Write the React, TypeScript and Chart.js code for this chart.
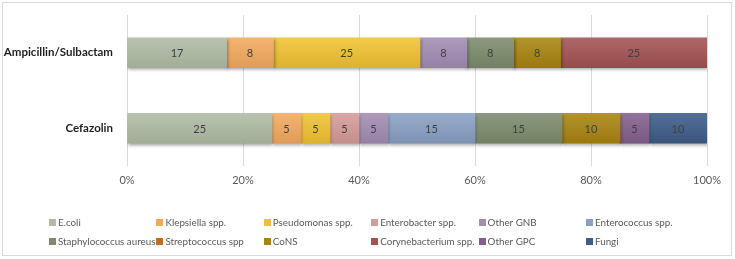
import { useEffect, useRef } from "react";
import { Chart, registerables } from "chart.js";

Chart.register(...registerables);

// Antibiotic regimens (category axis)
const regimens = ["Ampicillin/Sulbactam", "Cefazolin"];

// Organism groups, in legend / stacking order
const organisms = [
  "E.coli",
  "Klepsiella spp.",
  "Pseudomonas spp.",
  "Enterobacter spp.",
  "Other GNB",
  "Enterococcus spp.",
  "Staphylococcus aureus",
  "Streptococcus spp",
  "CoNS",
  "Corynebacterium spp.",
  "Other GPC",
  "Fungi",
];

const organismColors = [
  "#b0bca5",
  "#f3aa5f",
  "#f0c232",
  "#d49b98",
  "#a28cb2",
  "#89a0c4",
  "#7c8b6c",
  "#c06e28",
  "#a88410",
  "#a35252",
  "#83608c",
  "#3e5c87",
];

// Share of isolates (%) per organism for each regimen
const ampicillinSulbactam = [17, 8, 25, 0, 8, 0, 8, 0, 8, 25, 0, 0];
const cefazolin = [25, 5, 5, 5, 5, 15, 15, 0, 10, 0, 5, 10];

const xTickValues = [0, 20, 40, 60, 80, 100];

const FONT = "Lato, 'Noto Sans', sans-serif";

function shade(hex: string, amt: number): string {
  const n = parseInt(hex.slice(1), 16);
  let r = (n >> 16) & 255;
  let g = (n >> 8) & 255;
  let b = n & 255;
  if (amt >= 0) {
    r = r + (255 - r) * amt;
    g = g + (255 - g) * amt;
    b = b + (255 - b) * amt;
  } else {
    r = r * (1 + amt);
    g = g * (1 + amt);
    b = b * (1 + amt);
  }
  return `rgb(${Math.round(r)},${Math.round(g)},${Math.round(b)})`;
}

export default function App() {
  const canvasRef = useRef<HTMLCanvasElement | null>(null);

  useEffect(() => {
    document.body.style.margin = "0";
    const canvas = canvasRef.current;
    if (!canvas) return;

    const rows = [ampicillinSulbactam, cefazolin];
    const totals = rows.map((r) => r.reduce((a, b) => a + b, 0));
    const BAR = 30;

    const datasets = organisms.map((name, j) => ({
      label: name,
      data: rows.map((r, i) => (r[j] / totals[i]) * 100),
      rawValues: rows.map((r) => r[j]),
      barThickness: BAR,
      borderWidth: 0,
      backgroundColor: (ctx: any) => {
        const chart = ctx.chart;
        const yScale = chart.scales && chart.scales.y;
        const base = organismColors[j];
        if (!yScale || ctx.dataIndex === undefined) return base;
        const yc = yScale.getPixelForValue(ctx.dataIndex);
        if (!isFinite(yc)) return base;
        const g = chart.ctx.createLinearGradient(0, yc - BAR / 2, 0, yc + BAR / 2);
        g.addColorStop(0, shade(base, 0.12));
        g.addColorStop(1, shade(base, -0.08));
        return g;
      },
    }));

    const framePlugin = {
      id: "frame",
      beforeDraw(chart: any) {
        const c = chart.ctx;
        c.save();
        c.fillStyle = "#ffffff";
        c.fillRect(0, 0, chart.width, chart.height);
        c.restore();
      },
      afterDraw(chart: any) {
        const c = chart.ctx;
        c.save();
        c.strokeStyle = "#d9d9d9";
        c.lineWidth = 1;
        c.strokeRect(2.5, 2.5, 729, 253);
        c.restore();
      },
    };

    const shadowPlugin = {
      id: "barShadow",
      beforeDatasetsDraw(chart: any) {
        const c = chart.ctx;
        c.save();
        c.shadowColor = "rgba(0,0,0,0.35)";
        c.shadowBlur = 3;
        c.shadowOffsetX = 1;
        c.shadowOffsetY = 2;
      },
      afterDatasetsDraw(chart: any) {
        chart.ctx.restore();
      },
    };

    const valueLabels = {
      id: "valueLabels",
      afterDatasetsDraw(chart: any) {
        const c = chart.ctx;
        c.save();
        c.font = `11px ${FONT}`;
        c.fillStyle = "#404040";
        c.textAlign = "center";
        c.textBaseline = "middle";
        chart.data.datasets.forEach((ds: any, di: number) => {
          const meta = chart.getDatasetMeta(di);
          meta.data.forEach((el: any, i: number) => {
            const v = ds.rawValues[i];
            if (!v) return;
            c.fillText(String(v), (el.x + el.base) / 2, el.y + 1);
          });
        });
        c.restore();
      },
    };

    const gridLegend = {
      id: "gridLegend",
      afterDraw(chart: any) {
        const c = chart.ctx;
        c.save();
        c.font = `9.8px ${FONT}`;
        c.textBaseline = "middle";
        c.textAlign = "left";
        const cols = 6;
        const x0 = 49;
        const colW = 107.4;
        const rowY = [222.5, 241.5];
        organisms.forEach((name, k) => {
          const col = k % cols;
          const row = Math.floor(k / cols);
          const x = x0 + col * colW;
          const y = rowY[row];
          c.fillStyle = organismColors[k];
          c.fillRect(Math.round(x), Math.round(y - 3.5), 7, 7);
          c.fillStyle = "#595959";
          c.fillText(name, x + 9, y);
        });
        c.restore();
      },
    };

    const chart = new Chart(canvas, {
      type: "bar",
      data: { labels: regimens, datasets: datasets as any },
      options: {
        indexAxis: "y",
        responsive: false,
        animation: false,
        layout: { padding: { top: 15, right: 28, left: 0, bottom: 0 } },
        plugins: {
          legend: { display: false },
          tooltip: { enabled: false },
        },
        scales: {
          x: {
            stacked: true,
            min: 0,
            max: 100,
            afterBuildTicks: (scale: any) => {
              scale.ticks = xTickValues.map((v) => ({ value: v }));
            },
            afterFit: (scale: any) => {
              scale.height = 93;
            },
            ticks: {
              callback: (v: any) => `${v}%`,
              color: "#595959",
              font: { family: FONT, size: 11 },
              padding: 8,
              maxRotation: 0,
            },
            grid: { color: "#d9d9d9", drawTicks: false },
            border: { display: false },
          },
          y: {
            stacked: true,
            afterFit: (scale: any) => {
              scale.width = 127;
              scale.paddingTop = 0;
              scale.paddingBottom = 0;
            },
            ticks: {
              color: "#1f1f1f",
              font: { family: FONT, size: 11.5, weight: "bold" },
              padding: 14,
            },
            grid: { display: false, drawTicks: false },
            border: { display: false },
          },
        },
      },
      plugins: [framePlugin, shadowPlugin, valueLabels, gridLegend],
    });

    return () => chart.destroy();
  }, []);

  return (
    <div style={{ width: 735, height: 259 }}>
      <canvas ref={canvasRef} width={735} height={259} style={{ display: "block" }} />
    </div>
  );
}
